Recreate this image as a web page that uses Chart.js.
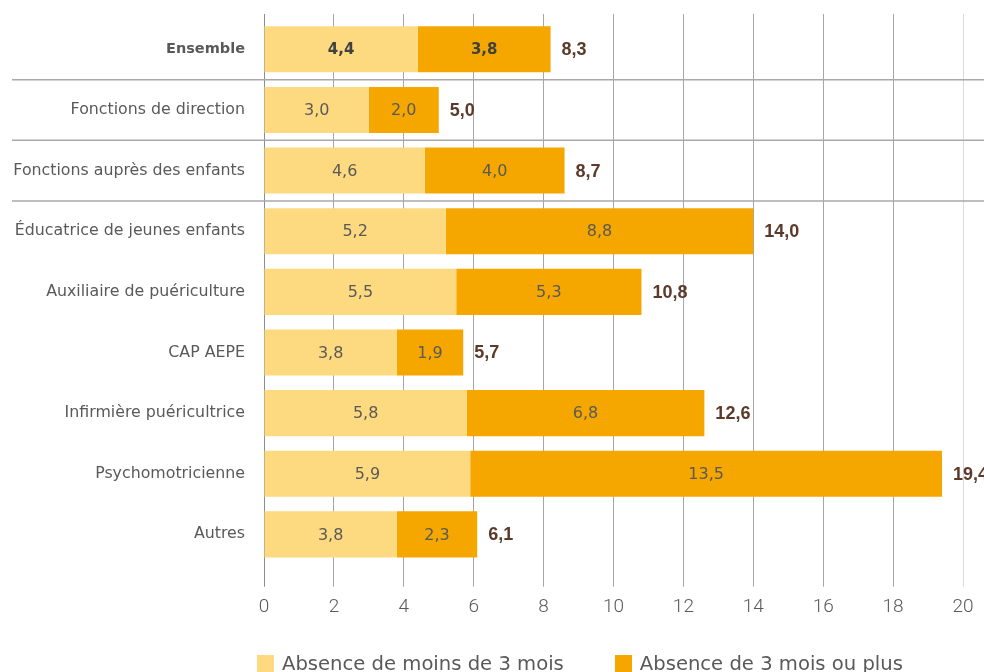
<!DOCTYPE html>
<html lang="fr">
<head>
<meta charset="utf-8">
<script src="https://cdn.jsdelivr.net/npm/chart.js@4.4.1/dist/chart.umd.min.js"></script>
<style>
  html, body { margin: 0; padding: 0; background: #fff; overflow: hidden; }
  #wrap { position: relative; width: 984px; height: 672px; }
  #chart { display: block; }
  #legend {
    position: absolute; left: 257px; top: 652px;
    display: flex; gap: 51px;
    font-family: "DejaVu Sans", sans-serif; font-size: 19.6px; color: #595959;
    white-space: nowrap;
  }
  #legend .item { display: flex; align-items: center; }
  #legend .swatch { width: 17px; height: 17px; margin-right: 8px; flex: none; }
</style>
</head>
<body>
<div id="wrap">
  <canvas id="chart" width="984" height="672"></canvas>
  <div id="legend"></div>
</div>
<script>
// Categories (rows, top to bottom)
const categories = [
  'Ensemble',
  'Fonctions de direction',
  'Fonctions auprès des enfants',
  'Éducatrice de jeunes enfants',
  'Auxiliaire de puériculture',
  'CAP AEPE',
  'Infirmière puéricultrice',
  'Psychomotricienne',
  'Autres'
];

// Series values (%)
const moinsDe3Mois    = [4.4, 3.0, 4.6, 5.2, 5.5, 3.8, 5.8, 5.9, 3.8];
const troisMoisOuPlus = [3.8, 2.0, 4.0, 8.8, 5.3, 1.9, 6.8, 13.5, 2.3];
const totals          = [8.3, 5.0, 8.7, 14.0, 10.8, 5.7, 12.6, 19.4, 6.1];

const seriesLabels = ['Absence de moins de 3 mois', 'Absence de 3 mois ou plus'];
const seriesColors = ['#FDDA80', '#F5A700'];

// Axis range
const xMin = 0;
const xMax = 20;
const xStep = 2;

const FONT = '"DejaVu Sans", sans-serif';
const fmt = v => v.toFixed(1).replace('.', ',');

function gridColor(ctx) {
  const v = ctx.tick ? ctx.tick.value : null;
  if (v === xMin) return '#8c8c8c';
  if (v === xMax) return '#dadada';
  return '#a6a6a6';
}

// Horizontal separators under "Ensemble" and between the two "Fonctions" groups
const separators = {
  id: 'separators',
  beforeDatasetsDraw(chart) {
    const y = chart.scales.y;
    const ctx = chart.ctx;
    ctx.save();
    ctx.strokeStyle = '#a8a8a8';
    ctx.lineWidth = 1.5;
    [0, 1, 2].forEach(i => {
      const py = (y.getPixelForValue(i) + y.getPixelForValue(i + 1)) / 2;
      ctx.beginPath();
      ctx.moveTo(12, py);
      ctx.lineTo(chart.width, py);
      ctx.stroke();
    });
    ctx.restore();
  }
};

// Segment values inside bars, totals after bars
const valueLabels = {
  id: 'valueLabels',
  afterDatasetsDraw(chart) {
    const ctx = chart.ctx;
    ctx.save();
    ctx.textBaseline = 'middle';
    chart.data.datasets.forEach((ds, di) => {
      const meta = chart.getDatasetMeta(di);
      meta.data.forEach((bar, i) => {
        const first = i === 0;
        ctx.font = (first ? 'bold 15px ' : '16px ') + FONT;
        ctx.fillStyle = first ? '#404040' : '#595959';
        ctx.textAlign = 'center';
        ctx.fillText(fmt(ds.data[i]), (bar.x + bar.base) / 2, bar.y + 1);
      });
    });
    const lastMeta = chart.getDatasetMeta(chart.data.datasets.length - 1);
    ctx.font = 'bold 18px "Liberation Sans", sans-serif';
    ctx.fillStyle = '#5B3A2A';
    ctx.textAlign = 'left';
    lastMeta.data.forEach((bar, i) => {
      ctx.fillText(fmt(totals[i]), bar.x + 11, bar.y + 1);
    });
    ctx.restore();
  }
};

const chart = new Chart(document.getElementById('chart'), {
  type: 'bar',
  data: {
    labels: categories,
    datasets: [
      { label: seriesLabels[0], data: moinsDe3Mois, backgroundColor: seriesColors[0] },
      { label: seriesLabels[1], data: troisMoisOuPlus, backgroundColor: seriesColors[1] }
    ]
  },
  options: {
    indexAxis: 'y',
    responsive: false,
    devicePixelRatio: 1,
    animation: false,
    categoryPercentage: 1,
    barPercentage: 0.76,
    layout: { padding: { top: 14, right: 21, bottom: 44.5, left: 0 } },
    plugins: {
      legend: { display: false },
      tooltip: { enabled: false }
    },
    scales: {
      x: {
        type: 'linear',
        position: 'bottom',
        stacked: true,
        min: xMin, max: xMax,
        ticks: {
          stepSize: xStep,
          padding: 9,
          color: '#595959',
          font: { family: 'Roboto', size: 19, weight: '300' }
        },
        grid: { color: gridColor, lineWidth: 1, tickLength: 22 },
        border: { display: false }
      },
      xTop: {
        type: 'linear',
        position: 'top',
        min: xMin, max: xMax,
        ticks: { stepSize: xStep, display: false },
        grid: { color: gridColor, drawOnChartArea: false, tickLength: 5 },
        border: { display: false }
      },
      y: {
        stacked: true,
        grid: { display: false, drawTicks: false },
        border: { display: false },
        ticks: {
          padding: 19,
          color: '#595959',
          font: ctx => ctx.index === 0
            ? { family: FONT, size: 14.5, weight: 'bold' }
            : { family: FONT, size: 15.8, weight: 'normal' }
        },
        afterFit(scale) {
          scale.width = 264;
          scale.paddingTop = 0;
          scale.paddingBottom = 0;
        }
      }
    }
  },
  plugins: [separators, valueLabels]
});

// Legend built from the chart's datasets
const legendEl = document.getElementById('legend');
chart.data.datasets.forEach(ds => {
  const item = document.createElement('div');
  item.className = 'item';
  const sw = document.createElement('span');
  sw.className = 'swatch';
  sw.style.background = ds.backgroundColor;
  const tx = document.createElement('span');
  tx.textContent = ds.label;
  item.appendChild(sw);
  item.appendChild(tx);
  legendEl.appendChild(item);
});
</script>
</body>
</html>
